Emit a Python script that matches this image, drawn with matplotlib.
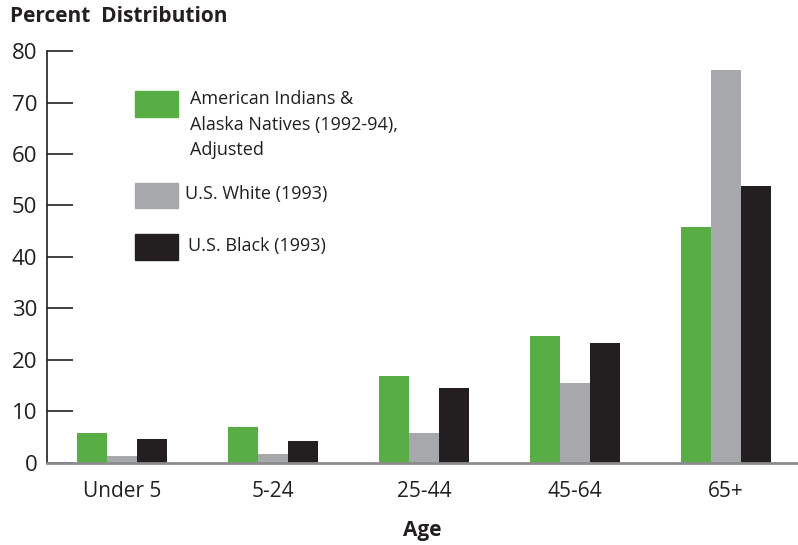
import numpy as np
import matplotlib.pyplot as plt
from matplotlib.patches import Rectangle

plt.rcParams['font.family'] = ['Open Sans', 'DejaVu Sans']

ages = ['Under 5', '5-24', '25-44', '45-64', '65+']
aian = [5.8, 7.0, 16.9, 24.7, 45.9]
white = [1.4, 1.8, 5.8, 15.6, 76.3]
black = [4.7, 4.3, 14.6, 23.3, 53.7]
series_names = ['American Indians &\nAlaska Natives (1992-94),\nAdjusted',
                'U.S. White (1993)', 'U.S. Black (1993)']
colors = ['#58ae44', '#a7a8ab', '#231f20']

fig = plt.figure(figsize=(7.98, 5.45), dpi=100)
ax = fig.add_axes([0.0589, 0.1505, 0.9411, 0.7559])

x = np.arange(len(ages))
w = 0.2
for i, (vals, c) in enumerate(zip([aian, white, black], colors)):
    ax.bar(x + (i - 1) * w, vals, width=w, color=c, zorder=2)

ax.set_xlim(-0.497, 4.477)
ax.set_ylim(0, 80)
ax.set_yticks(range(0, 81, 10))
ax.set_xticks(x)
ax.set_xticklabels(ages, fontsize=15, color='#231f20')
ax.tick_params(axis='y', direction='in', length=19, width=1.2, color='#231f20',
               labelsize=16, labelcolor='#231f20', pad=7)
ax.tick_params(axis='x', length=0, pad=13)
for s in ['top', 'right']:
    ax.spines[s].set_visible(False)
ax.spines['left'].set_color('#231f20')
ax.spines['left'].set_linewidth(1.2)
ax.spines['bottom'].set_color('#8c8c8c')
ax.spines['bottom'].set_linewidth(2)
ax.spines['bottom'].set_zorder(3)

ax.set_xlabel('Age', fontsize=15, fontweight='bold', color='#231f20', labelpad=13)
fig.text(10 / 798, 1 - 17 / 545, 'Percent  Distribution', fontsize=15, fontweight='bold',
         color='#231f20', va='center', ha='left')

# legend, drawn in pixel positions
H = 545
legend_pos = [(91, 117, 190, 99), (183, 208, 185, 194), (234, 260, 188, 246)]
for name, c, (top, bot, tx, ty) in zip(series_names, colors, legend_pos):
    fig.patches.append(Rectangle((135 / 798, 1 - bot / H), 43 / 798, (bot - top) / H,
                                 transform=fig.transFigure, color=c))
    fig.text(tx / 798, 1 - (ty - 9) / H, name, fontsize=13, color='#231f20',
             va='top', ha='left', linespacing=1.55)

fig.savefig('out.png', dpi=100)
